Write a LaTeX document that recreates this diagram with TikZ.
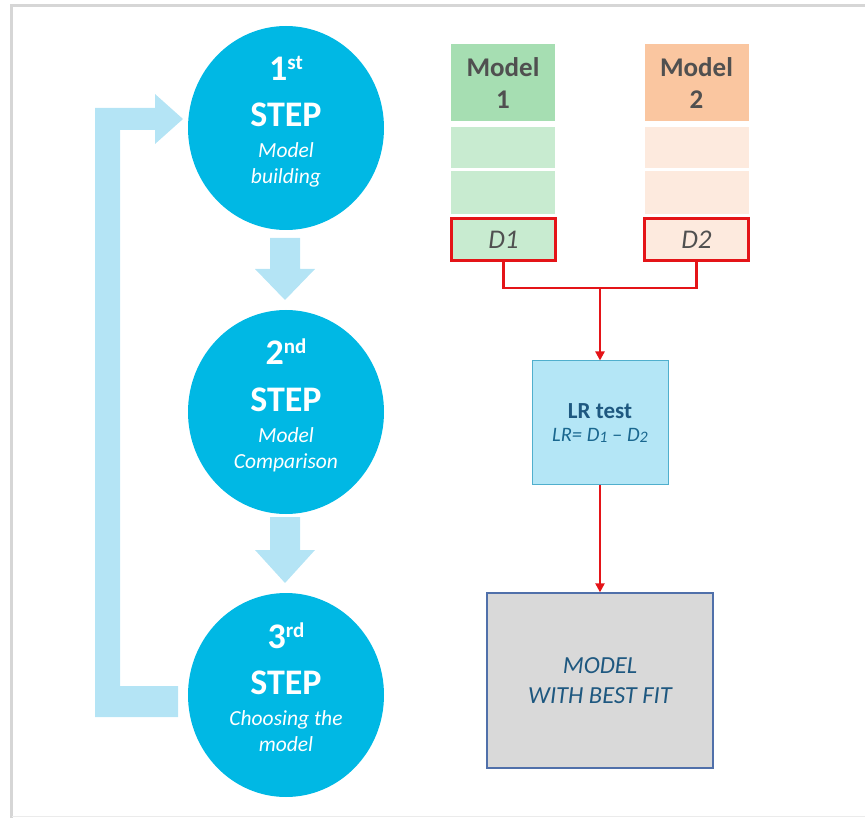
\documentclass[tikz,border=0pt]{standalone}
\usepackage{fontspec}
\setmainfont{Carlito}
\usetikzlibrary{shapes.geometric,arrows.meta}
\definecolor{cyanc}{RGB}{0,184,228}
\definecolor{lightarrow}{RGB}{180,228,245}
\definecolor{greenh}{RGB}{166,222,178}
\definecolor{greenl}{RGB}{200,235,208}
\definecolor{orangeh}{RGB}{250,198,160}
\definecolor{orangel}{RGB}{253,234,222}
\definecolor{redl}{RGB}{228,20,24}
\definecolor{lrfill}{RGB}{180,230,246}
\definecolor{lrborder}{RGB}{80,175,205}
\definecolor{darkteal}{RGB}{30,88,128}
\definecolor{grayfill}{RGB}{217,217,217}
\definecolor{grayborder}{RGB}{80,112,170}
\definecolor{textgray}{RGB}{80,80,80}
\definecolor{framegray}{RGB}{214,214,214}
\tikzset{
  stepcirc/.style={ellipse, fill=cyanc, minimum width=196pt, minimum height=204pt, inner sep=0pt},
  bigtxt/.style={anchor=base, text=white, font=\fontsize{36}{36}\selectfont\bfseries, inner sep=0pt},
  smalltxt/.style={anchor=base, text=white, font=\fontsize{21.5}{21.5}\selectfont\itshape, inner sep=0pt},
  cell/.style={draw=none, minimum width=104pt, inner sep=0pt},
  dbox/.style={draw=redl, line width=2.6pt, minimum width=104pt, minimum height=42pt, inner sep=0pt,
    text=textgray, font=\fontsize{27}{27}\selectfont\itshape},
  hdrtxt/.style={anchor=base, text=textgray, font=\fontsize{27}{27}\selectfont\bfseries, inner sep=0pt},
  redarrow/.style={draw=redl, line width=2.2pt, -{Triangle[length=9pt,width=9pt]}},
  redline/.style={draw=redl, line width=2.6pt},
  bluearrow/.style={fill=lightarrow, draw=none},
}
\newcommand\mystep[7]{%
  \node[stepcirc] (#1) at (286,#2) {};
  \node[bigtxt] (#1a) at (286,#2-47) {#3\raisebox{11pt}{\fontsize{21}{21}\selectfont #4}};
  \node[bigtxt] (#1b) at (286,#2-1) {STEP};
  \node[smalltxt] (#1c) at (286,#2+30) {#5};
  \node[smalltxt] (#1d) at (286,#2+56) {#6};
}
\begin{document}
\begin{tikzpicture}[x=1pt,y=-1pt]
\useasboundingbox (0,0) rectangle (865,818);
% frame
\draw[framegray, line width=3pt] (11.5,818) -- (11.5,5.5) -- (865,5.5);
\draw[black!8, line width=1.5pt] (11.5,816.5) -- (865,816.5);

% loop arrow
\fill[bluearrow] (95,108) -- (155,108) -- (155,94) -- (183,119) -- (155,144) -- (155,130)
  -- (120,130) -- (120,686) -- (178,686) -- (178,717) -- (95,717) -- cycle;
% down arrows
\fill[bluearrow] (270,238) -- (300,238) -- (300,269) -- (315,269) -- (285,300) -- (255,269) -- (270,269) -- cycle;
\fill[bluearrow] (270,517) -- (300,517) -- (300,550) -- (315,550) -- (285,583) -- (255,550) -- (270,550) -- cycle;

% step circles
\mystep{c1}{128}{1}{st}{Model}{building}{}
\mystep{c2}{412}{2}{nd}{Model}{Comparison}{}
\mystep{c3}{695}{3}{rd}{Choosing the}{model}{}

% model 1
\node[cell, fill=greenh, minimum height=77pt] (m1h) at (503,82.5) {};
\node[hdrtxt] (m1t1) at (503,77) {Model};
\node[hdrtxt] (m1t2) at (503,109) {1};
\node[cell, fill=greenl, minimum height=41pt] (m1r1) at (503,147.5) {};
\node[cell, fill=greenl, minimum height=43pt] (m1r2) at (503,192.5) {};
\node[dbox, fill=greenl] (d1) at (503.5,239.5) {D1};

% model 2
\node[cell, fill=orangeh, minimum height=77pt] (m2h) at (696.5,82.5) {};
\node[hdrtxt] (m2t1) at (696.5,77) {Model};
\node[hdrtxt] (m2t2) at (696.5,109) {2};
\node[cell, fill=orangel, minimum height=41pt] (m2r1) at (696.5,147.5) {};
\node[cell, fill=orangel, minimum height=43pt] (m2r2) at (696.5,192.5) {};
\node[dbox, fill=orangel] (d2) at (696.5,239.5) {D2};

% LR test box
\node[draw=lrborder, fill=lrfill, line width=1pt, minimum width=136pt, minimum height=123pt, inner sep=0pt] (lr) at (600,422.5) {};
\node[anchor=base, text=darkteal, font=\fontsize{23}{23}\selectfont\bfseries, inner sep=0pt] (lrt) at (600,418) {LR test};
\node[anchor=base, text=darkteal!85!cyanc, font=\fontsize{20.5}{20.5}\selectfont\itshape, inner sep=0pt] (lrf) at (600,441)
  {LR= D\raisebox{-1pt}{\fontsize{16}{16}\selectfont 1} -- D\raisebox{-1pt}{\fontsize{16}{16}\selectfont 2}};

% best fit box
\node[draw=grayborder, fill=grayfill, line width=1.3pt, minimum width=226pt, minimum height=175pt, inner sep=0pt] (best) at (600,680.5) {};
\node[anchor=base, text=darkteal, font=\fontsize{24.5}{24.5}\selectfont\itshape, inner sep=0pt] (bt1) at (600,673) {MODEL};
\node[anchor=base, text=darkteal, font=\fontsize{24.5}{24.5}\selectfont\itshape, inner sep=0pt] (bt2) at (600,703) {WITH BEST FIT};

% red connectors
\coordinate (j) at (600,288);
\draw[redline] (d1.south) |- (j) -| (d2.south);
\draw[redarrow] (j) -- (lr.north);
\draw[redarrow] (lr.south) -- (best.north);
\end{tikzpicture}
\end{document}
